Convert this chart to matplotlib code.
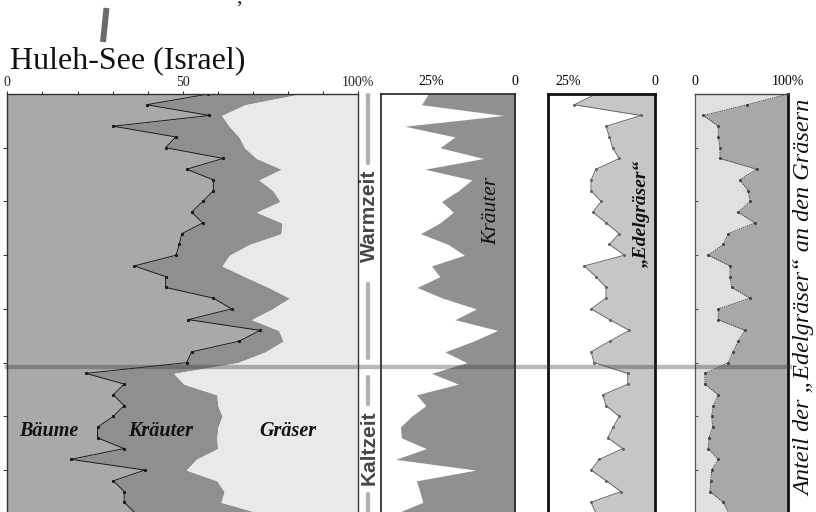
import numpy as np
import matplotlib
matplotlib.use("Agg")
import matplotlib.pyplot as plt
from matplotlib.lines import Line2D
from matplotlib.patches import FancyArrowPatch

plt.rcParams['font.family'] = ['Liberation Serif', 'DejaVu Serif']

# sample depths (arbitrary units, tick every 5 samples)
depth = [0.0, 0.2, 0.4, 0.6, 0.8, 1.0, 1.2, 1.4, 1.6, 1.8,
         2.0, 2.2, 2.4, 2.6, 2.8, 3.0, 3.2, 3.4, 3.6, 3.8,
         4.0, 4.2, 4.4, 4.6, 4.8, 5.0, 5.2, 5.4, 5.6, 5.8,
         6.0, 6.2, 6.4, 6.6, 6.8, 7.0, 7.2, 7.4, 7.6, 7.8]

# Baeume (trees), percent of total pollen
baeume = [57.3, 39.7, 57.6, 30.2, 48.0, 45.1, 61.5, 51.1, 58.7, 58.7,
          55.7, 52.5, 55.7, 49.7, 49.0, 48.1, 36.2, 45.1, 45.1, 58.7,
          63.9, 51.6, 72.0, 66.1, 52.5, 51.1, 22.4, 33.3, 30.2, 33.3,
          30.2, 25.7, 25.7, 33.3, 18.1, 39.2, 30.2, 33.3, 33.3, 36.4]

# Kraeuter (herbs), percent of total pollen
kraeuter = [26.0, 28.0, 3.5, 33.0, 18.0, 22.5, 9.5, 27.0, 13.0, 17.0,
            22.0, 18.5, 22.5, 28.3, 20.0, 15.2, 25.0, 22.5, 29.3, 21.7,
            11.6, 18.0, 5.3, 12.5, 21.0, 14.5, 25.0, 17.0, 29.5, 26.7,
            31.0, 34.3, 34.0, 26.6, 35.7, 11.8, 29.5, 28.5, 27.6, 35.3]

# "Edelgraeser", percent of total pollen
edelgraeser = [17.0, 23.2, 4.0, 14.1, 13.1, 12.2, 10.3, 17.0, 18.4, 18.4,
               15.5, 17.9, 14.0, 10.3, 13.1, 8.8, 20.3, 17.0, 14.1, 14.1,
               18.4, 13.0, 7.4, 13.0, 18.4, 17.5, 7.9, 7.8, 15.0, 14.1,
               10.3, 12.0, 13.6, 9.3, 16.0, 18.4, 14.0, 9.8, 18.4, 17.0]

# share of "Edelgraeser" among all grasses, percent
anteil_edel = [100.0, 56.0, 9.0, 25.0, 25.0, 26.8, 26.8, 66.0, 48.0, 57.0,
               59.0, 46.4, 64.3, 35.7, 30.4, 14.3, 37.5, 37.5, 39.3, 59.0,
               25.0, 25.0, 53.6, 46.4, 41.0, 35.7, 10.7, 10.7, 25.0, 19.6,
               17.9, 19.0, 15.0, 14.3, 25.0, 17.9, 17.0, 16.1, 30.4, 36.0]

W, H = 816, 512
fig = plt.figure(figsize=(W / 100, H / 100), dpi=100)
fig.patch.set_facecolor('white')


def box(x0, x1, y0=94, y1=512):
    return [x0 / W, 1 - y1 / H, (x1 - x0) / W, (y1 - y0) / H]


ytop, ybot = 0, 7.78
ticks_depth = [1, 2, 3, 4, 5, 6, 7]

# ---- panel 1: Baeume / Kraeuter / Graeser
ax1 = fig.add_axes(box(7.3, 358.3))
b = np.array(baeume)
k = b + np.array(kraeuter)
ax1.fill_betweenx(depth, 0, b, color='#a9a9a9', lw=0)
ax1.fill_betweenx(depth, b, k, color='#8f8f8f', lw=0)
ax1.fill_betweenx(depth, k, 100, color='#e9e9e9', lw=0)
ax1.plot(b, depth, color='#1a1a1a', lw=0.7, marker='s', ms=1.2)
ax1.set_xlim(0, 100)
ax1.set_ylim(ybot, ytop)
ax1.xaxis.tick_top()
ax1.set_xticks([0, 50, 100])
ax1.set_xticklabels(['0', '50', '100%'])
ax1.set_xticks(np.arange(0, 101, 10), minor=True)
ax1.tick_params(axis='x', which='both', direction='out', length=2.5,
                width=0.7, labelsize=10, pad=1, colors='#222')
ax1.set_yticks(ticks_depth)
ax1.tick_params(axis='y', direction='out', length=3, width=0.7,
                labelleft=False, colors='#333')
for s in ['left', 'top', 'right']:
    ax1.spines[s].set_color('#333')
    ax1.spines[s].set_linewidth(1.0)
ax1.spines['bottom'].set_visible(False)
lab = dict(fontsize=14.5, fontweight='bold', fontstyle='italic',
           ha='center', va='center', color='#111')
ax1.text(11.9, 6.28, 'Bäume', **lab)
ax1.text(43.8, 6.28, 'Kräuter', **lab)
ax1.text(80.0, 6.28, 'Gräser', **lab)

# ---- panel 2: Kraeuter
ax2 = fig.add_axes(box(381.3, 515.3))
ax2.fill_betweenx(depth, 0, kraeuter, color='#909090', lw=0)
ax2.set_xlim(40, 0)
ax2.set_ylim(ybot, ytop)
ax2.xaxis.tick_top()
ax2.set_xticks([25, 0])
ax2.set_xticklabels(['25%', '0'])
ax2.set_yticks([])
ax2.tick_params(axis='x', length=0, labelsize=10, pad=4)
for s in ['left', 'top', 'right']:
    ax2.spines[s].set_color('#222')
    ax2.spines[s].set_linewidth(1.2)
ax2.spines['bottom'].set_visible(False)
ax2.text(7.1, 2.18, 'Kräuter', rotation=90, fontsize=15.5, fontstyle='italic',
         ha='center', va='center', color='#111')

# ---- panel 3: Edelgraeser
ax3 = fig.add_axes(box(548.3, 655))
ax3.fill_betweenx(depth, 0, edelgraeser, color='#c6c6c6', lw=0)
ax3.plot(edelgraeser, depth, color='#666', lw=0.7, marker='o', ms=1.2)
ax3.set_xlim(30.7, 0)
ax3.set_ylim(ybot, ytop)
ax3.xaxis.tick_top()
ax3.set_xticks([25, 0])
ax3.set_xticklabels(['25%', '0'])
ax3.set_yticks([])
ax3.tick_params(axis='x', length=0, labelsize=10, pad=4)
for s in ['left', 'top', 'right']:
    ax3.spines[s].set_color('#111')
    ax3.spines[s].set_linewidth(2.0)
ax3.spines['bottom'].set_visible(False)
ax3.text(4.0, 2.23, '\u201eEdelgräser\u201c', rotation=90, fontsize=14,
         fontstyle='italic', fontweight='bold', ha='center', va='center',
         color='#111')

# ---- panel 4: share of Edelgraeser among grasses
ax4 = fig.add_axes(box(695, 788.3))
ax4.fill_betweenx(depth, 0, anteil_edel, color='#e0e0e0', lw=0)
ax4.fill_betweenx(depth, anteil_edel, 100, color='#a8a8a8', lw=0)
ax4.plot(anteil_edel, depth, color='#444', lw=0.7, ls=(0, (1.5, 0.8)),
         marker='o', ms=1.2)
ax4.set_xlim(0, 100)
ax4.set_ylim(ybot, ytop)
ax4.xaxis.tick_top()
ax4.set_xticks([0, 100])
ax4.set_xticklabels(['0', '100%'])
ax4.tick_params(axis='x', length=0, labelsize=10, pad=4)
ax4.set_yticks(ticks_depth)
ax4.tick_params(axis='y', direction='in', length=2, width=0.8,
                labelleft=False, colors='#555')
ax4.spines['left'].set_color('#555')
ax4.spines['left'].set_linewidth(0.9)
ax4.spines['top'].set_color('#444')
ax4.spines['top'].set_linewidth(1.0)
ax4.spines['right'].set_color('#111')
ax4.spines['right'].set_linewidth(2.0)
ax4.spines['bottom'].set_visible(False)

# ---- boundary Warmzeit / Kaltzeit
fig.add_artist(Line2D([7 / W, 790 / W], [1 - 367 / H] * 2,
                      transform=fig.transFigure, color='#383838',
                      alpha=0.36, lw=3.1))

# period labels and arrows between panel 1 and 2
per = dict(rotation=90, fontsize=15, fontweight='bold', family='Liberation Sans',
           ha='center', va='center', color='#474747')
fig.text(369 / W, 1 - 216 / H, 'Warmzeit', **per)
fig.text(369 / W, 1 - 448 / H, 'Kaltzeit', **per)
arr = dict(arrowstyle='-|>,head_length=0.7,head_width=0.25', lw=3,
           color='#b0b0b0', shrinkA=0, shrinkB=0)
for y_from, y_to in [(163, 89), (284, 364), (404, 371), (494, 530)]:
    fig.add_artist(FancyArrowPatch((368, H - y_from), (368, H - y_to),
                                   transform=None, **arr))

# ---- title and texts
fig.text(10 / W, 1 - 68 / H, 'Huleh-See (Israel)', fontsize=23,
         va='baseline', ha='left', color='#111')
fig.add_artist(Line2D([106.5 / W, 103 / W], [1 - 8 / H, 1 - 42 / H],
                      transform=fig.transFigure, color='#6a6a6a', lw=4.3,
                      solid_capstyle='butt'))
fig.text(236 / W, 1 - 3 / H, ',', fontsize=16, va='baseline', ha='left',
         color='#222')
fig.text(805 / W, 1 - 298 / H,
         'Anteil der \u201eEdelgräser\u201c an den Gräsern', rotation=90,
         fontsize=17.5, fontstyle='italic', ha='center', va='center',
         color='#111')

fig.savefig('out.png', dpi=100)
